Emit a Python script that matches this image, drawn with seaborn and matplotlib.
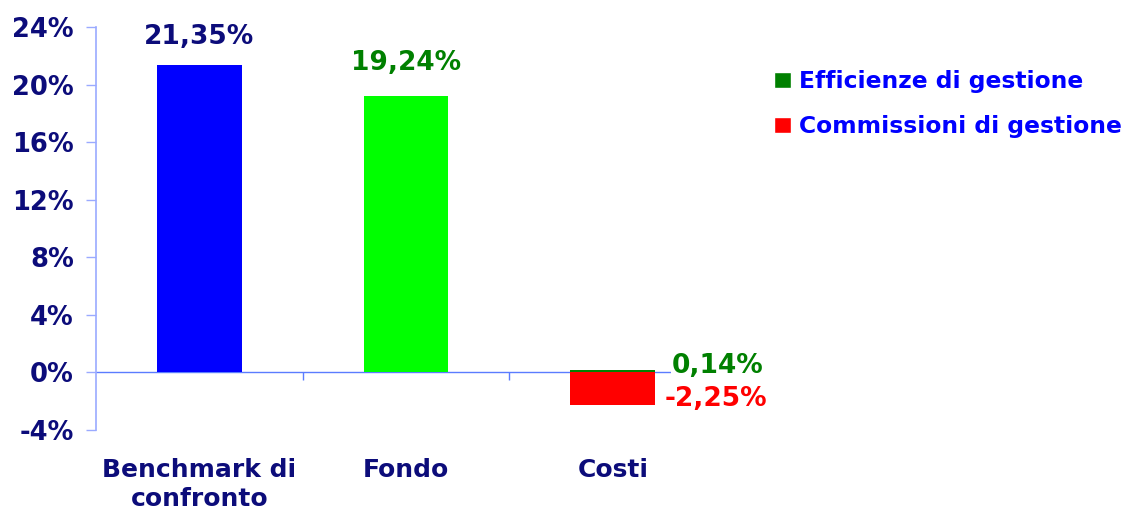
import matplotlib
matplotlib.use("Agg")
import matplotlib.pyplot as plt
from matplotlib.patches import Patch
import pandas as pd
import seaborn as sns

# data
categorie = ["Benchmark di\nconfronto", "Fondo", "Costi"]
rendimenti = [21.35, 19.24]            # benchmark, fondo
rendimenti_label = ["21,35%", "19,24%"]
serie_costi = ["Efficienze di gestione", "Commissioni di gestione"]
valori_costi = [0.14, -2.25]
costi_label = ["0,14%", "-2,25%"]
yticks = [-4, 0, 4, 8, 12, 16, 20, 24]

blu, verde, verde_scuro, rosso = "#0000ff", "#00ff00", "#008000", "#ff0000"
navy = "#0c0c7a"

sns.set_style("white")
plt.rcParams["font.family"] = ["DejaVu Sans"]
plt.rcParams["font.weight"] = "bold"

df_main = pd.DataFrame({"cat": categorie[:2], "val": rendimenti})
df_costi = pd.DataFrame({"cat": [categorie[2]] * 2, "serie": serie_costi, "val": valori_costi})

fig = plt.figure(figsize=(11.26, 5.11), dpi=100)
ax = fig.add_axes([0.0853, 0.1585, 0.5507, 0.7885])

# zero line under the bars
ax.axhline(0, color="#5b7cff", lw=1, zorder=0.5)
ax.vlines([0.5, 1.5], -0.5, 0, color="#5b7cff", lw=1, zorder=0.5)

sns.barplot(data=df_main, x="cat", y="val", hue="cat", order=categorie,
            palette=[blu, verde], width=0.41, legend=False, ax=ax, saturation=1,
            linewidth=0)
sns.barplot(data=df_costi, x="cat", y="val", hue="serie", order=categorie,
            palette=[verde_scuro, rosso], width=0.41, dodge=False, legend=False,
            ax=ax, saturation=1, linewidth=0)

ax.set_xlim(-0.5, 2.5)
ax.set_ylim(-4, 24)
ax.set_yticks(yticks)
ax.set_yticklabels([f"{v}%" for v in yticks], color=navy, fontsize=18.5, fontweight="bold")
ax.set_xticks(range(len(categorie)))
ax.set_xticklabels(categorie, color=navy, fontsize=18, fontweight="bold", linespacing=1.3)
ax.tick_params(axis="x", length=0, pad=20)
ax.tick_params(axis="y", length=7, width=1, color="#9aaaff", pad=9, left=True)
ax.set_xlabel("")
ax.set_ylabel("")

for s in ["top", "right", "bottom"]:
    ax.spines[s].set_visible(False)
ax.spines["left"].set_color("#9aaaff")
ax.spines["left"].set_linewidth(1.2)

# value labels
for i, (v, lab, c, off) in enumerate(zip(rendimenti, rendimenti_label, [navy, verde_scuro], [11, 14])):
    ax.annotate(lab, (i, v), xytext=(0, off), textcoords="offset points",
                ha="center", va="bottom", color=c, fontsize=19, fontweight="bold")

ax.annotate(costi_label[0], (2 + 0.205, valori_costi[0]), xytext=(12, 3),
            textcoords="offset points", ha="left", va="center", color=verde_scuro,
            fontsize=19, fontweight="bold",
            bbox=dict(facecolor="white", edgecolor="none", pad=1))
ax.annotate(costi_label[1], (2 + 0.205, valori_costi[1]), xytext=(7, 4),
            textcoords="offset points", ha="left", va="center", color=rosso,
            fontsize=19, fontweight="bold")

handles = [Patch(facecolor=verde_scuro), Patch(facecolor=rosso)]
fig.legend(handles, serie_costi, loc="upper left", bbox_to_anchor=(0.669, 0.904),
           frameon=False, handlelength=0.7, handleheight=0.7, handletextpad=0.35,
           labelspacing=0.95, labelcolor=blu, prop={"weight": "bold", "size": 16.8})

fig.savefig("out.png", dpi=100)
